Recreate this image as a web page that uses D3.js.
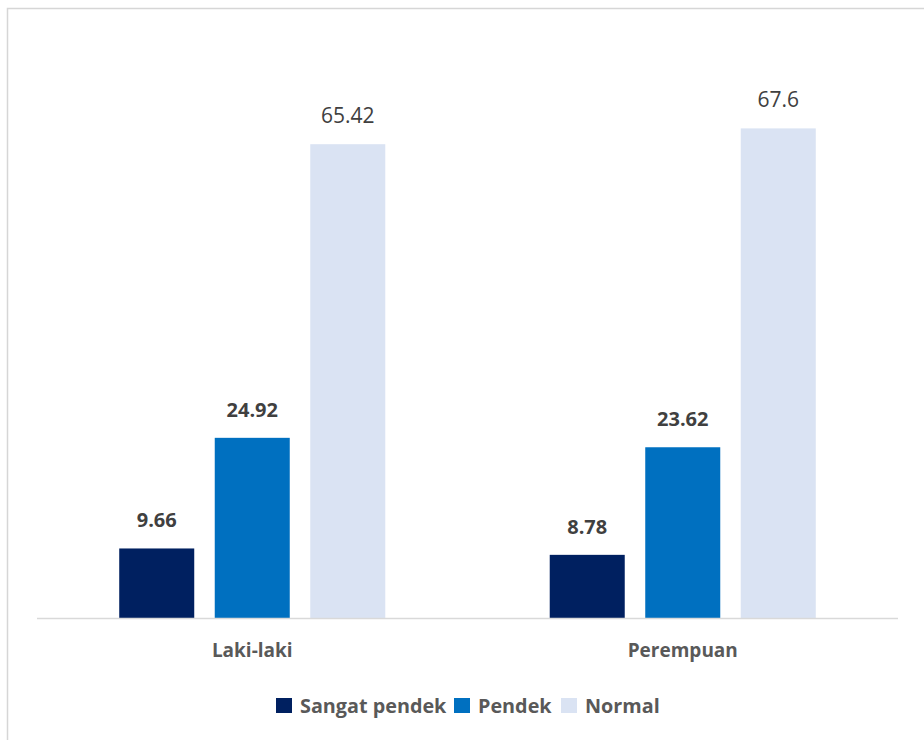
<!DOCTYPE html>
<html>
<head>
<meta charset="utf-8">
<script src="https://cdn.jsdelivr.net/npm/d3@7"></script>
<style>
  html, body { margin: 0; padding: 0; background: #fff; }
  svg { display: block; }
  text { font-family: "Open Sans", "Noto Sans", sans-serif; }
</style>
</head>
<body>
<svg id="chart" width="924" height="740"></svg>
<script>
// Stunting status by sex (percent)
const categories = ["Laki-laki", "Perempuan"];
const seriesNames = ["Sangat pendek", "Pendek", "Normal"];
const sangatPendek = [9.66, 8.78];
const pendek = [24.92, 23.62];
const normal = [65.42, 67.6];
const seriesValues = [sangatPendek, pendek, normal];
const seriesColors = ["#002060", "#0070C0", "#DAE3F3"];
const labelBold = [true, true, false];

const svg = d3.select("#chart");

// outer frame
svg.append("rect")
  .attr("x", 7.5).attr("y", 8.5)
  .attr("width", 960).attr("height", 780)
  .attr("fill", "#fff")
  .attr("stroke", "#d6d6d6")
  .attr("stroke-width", 1.5);

const plotLeft = 37, plotRight = 898, baseY = 618.5;

const x0 = d3.scaleBand()
  .domain(categories)
  .range([plotLeft, plotRight])
  .paddingInner(0.382)
  .paddingOuter(0.191);

const x1 = d3.scaleBand()
  .domain(seriesNames)
  .range([0, x0.bandwidth()])
  .paddingInner(0.2147)
  .paddingOuter(0);

const y = d3.scaleLinear()
  .domain([0, 80])
  .range([baseY, baseY - 80 * 7.25]);

const rows = [];
categories.forEach((c, i) => {
  seriesNames.forEach((s, j) => {
    rows.push({ cat: c, series: s, value: seriesValues[j][i], color: seriesColors[j], bold: labelBold[j] });
  });
});

// bars
svg.append("g").selectAll("rect")
  .data(rows)
  .join("rect")
  .attr("x", d => x0(d.cat) + x1(d.series))
  .attr("y", d => y(d.value))
  .attr("width", x1.bandwidth())
  .attr("height", d => y(0) - y(d.value))
  .attr("fill", d => d.color);

// value labels
svg.append("g").selectAll("text")
  .data(rows)
  .join("text")
  .attr("x", d => x0(d.cat) + x1(d.series) + x1.bandwidth() / 2)
  .attr("y", d => y(d.value) - 21)
  .attr("text-anchor", "middle")
  .attr("font-size", d => d.bold ? 20 : 21)
  .attr("font-weight", d => d.bold ? 700 : 400)
  .attr("fill", "#404040")
  .text(d => d.value);

// category axis
const xAxis = svg.append("g")
  .attr("transform", `translate(0,${baseY})`)
  .call(d3.axisBottom(x0).tickSize(0).tickPadding(0));
xAxis.select(".domain")
  .attr("d", `M${plotLeft},0H${plotRight}`)
  .attr("stroke", "#d9d9d9")
  .attr("stroke-width", 1.5);
xAxis.selectAll(".tick text")
  .attr("y", 38)
  .attr("dy", null)
  .attr("font-size", 19)
  .attr("font-weight", 700)
  .attr("fill", "#595959")
  .style("font-family", "'Open Sans', sans-serif");

// legend
const legendItems = [
  { name: seriesNames[0], color: seriesColors[0], x: 276 },
  { name: seriesNames[1], color: seriesColors[1], x: 454 },
  { name: seriesNames[2], color: seriesColors[2], x: 561 }
];
const legend = svg.append("g");
const li = legend.selectAll("g").data(legendItems).join("g")
  .attr("transform", d => `translate(${d.x},698)`);
li.append("rect")
  .attr("width", 16).attr("height", 15)
  .attr("fill", d => d.color);
li.append("text")
  .attr("x", 24).attr("y", 15)
  .attr("font-size", 19.8)
  .attr("font-weight", 700)
  .attr("fill", "#595959")
  .text(d => d.name);
</script>
</body>
</html>
